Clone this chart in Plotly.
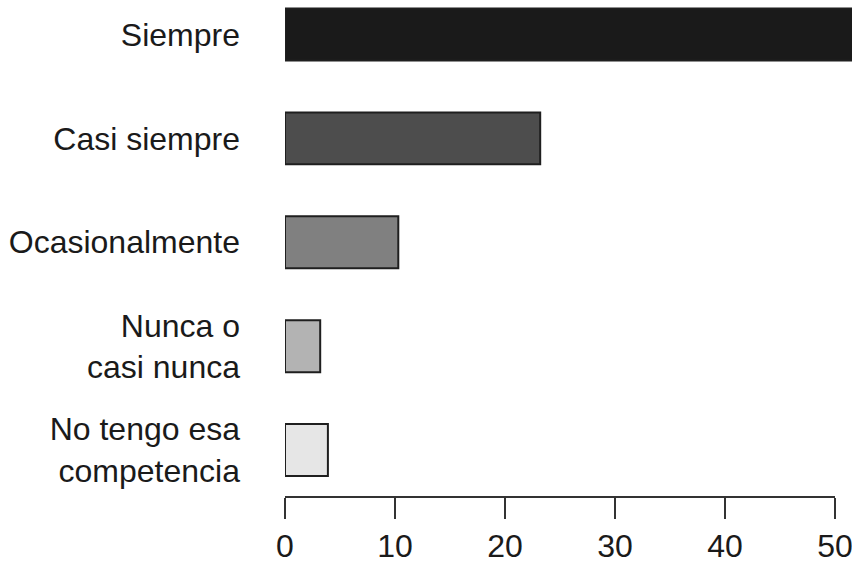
import plotly.graph_objects as go

# Data (bottom to top order for Plotly's categorical axis)
categories = [
    "No tengo esa<br>competencia",
    "Nunca o<br>casi nunca",
    "Ocasionalmente",
    "Casi siempre",
    "Siempre",
]
values = [3.9, 3.2, 10.3, 23.2, 59.4]
x_ticks = [0, 10, 20, 30, 40, 50]

bar_colors = ["#e6e6e6", "#b3b3b3", "#808080", "#4d4d4d", "#1a1a1a"]

FONT = "Liberation Sans, Arial, sans-serif"

fig = go.Figure(
    go.Bar(
        x=values,
        y=categories,
        orientation="h",
        width=0.5,
        marker=dict(color=bar_colors, line=dict(color="#1f1f1f", width=2)),
        hoverinfo="x+y",
    )
)

fig.update_layout(
    width=852,
    height=571,
    margin=dict(l=285, r=0, t=0, b=74, autoexpand=False),
    paper_bgcolor="white",
    plot_bgcolor="white",
    showlegend=False,
    font=dict(family=FONT, size=32, color="#1a1a1a"),
    xaxis=dict(
        range=[0, 51.545],
        automargin=False,
        tickmode="array",
        tickvals=x_ticks,
        ticktext=[str(v) for v in x_ticks],
        ticks="outside",
        ticklen=21,
        tickwidth=2,
        tickcolor="#333333",
        ticklabeloverflow="allow",
        showline=False,
        showgrid=False,
        zeroline=False,
        tickfont=dict(family=FONT, size=32, color="#1a1a1a"),
    ),
    yaxis=dict(
        type="category",
        categoryorder="array",
        categoryarray=categories,
        range=[-0.452, 4.332],
        automargin=False,
        showgrid=False,
        zeroline=False,
        showline=False,
        ticks="",
        ticklabelstandoff=44,
        tickfont=dict(family=FONT, size=32, color="#1a1a1a"),
    ),
    shapes=[
        dict(
            type="line",
            xref="x",
            yref="paper",
            x0=x_ticks[0],
            x1=x_ticks[-1],
            y0=0,
            y1=0,
            line=dict(color="#333333", width=2),
        )
    ],
)

fig.write_html(
    "out.html",
    config={"displayModeBar": False},
    post_script="document.body.style.margin='0';document.body.style.padding='0';"
    "document.body.style.overflow='hidden';",
)
